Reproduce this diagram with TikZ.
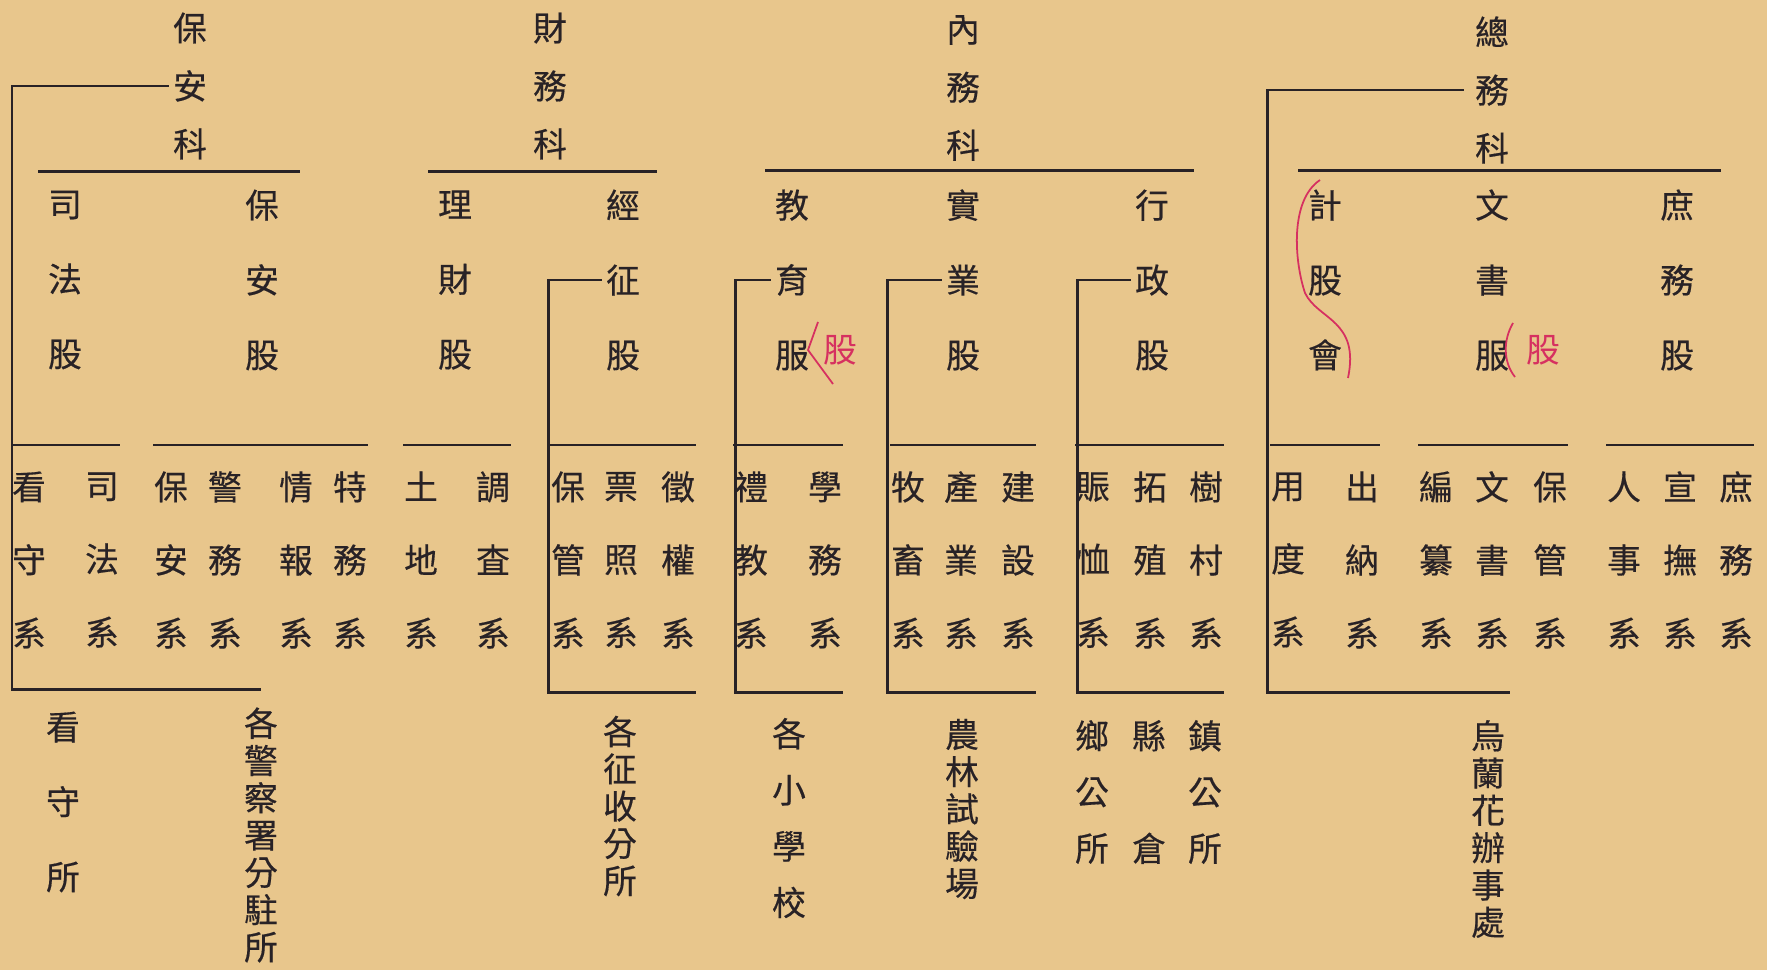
\documentclass[tikz,border=0pt]{standalone}
\usepackage{fontspec}
\newfontfamily\cjk[FakeBold=0.45]{Noto Sans CJK TC}
\newfontfamily\cjkpen{Noto Sans CJK TC}
\definecolor{paper}{RGB}{232,198,140}
\definecolor{ink}{RGB}{40,34,38}
\definecolor{redpen}{RGB}{214,48,96}

\begin{document}
\begin{tikzpicture}[x=0.01cm,y=-0.01cm,
    every node/.style={inner sep=0pt,align=center,text=ink},
    ke/.style={font=\cjk\fontsize{9.6}{16.5}\selectfont},
    gu/.style={font=\cjk\fontsize{9.6}{21.3}\selectfont},
    xi/.style={font=\cjk\fontsize{9.6}{20.8}\selectfont},
    suo/.style={font=\cjk\fontsize{9.6}{10.6}\selectfont},
    suowide/.style={font=\cjk\fontsize{9.6}{16}\selectfont},
    pen/.style={font=\cjkpen\fontsize{9.6}{10}\selectfont,text=redpen},
    treeline/.style={draw=ink,line width=0.85pt},
    redline/.style={draw=redpen,line width=0.5pt}]

\fill[paper] (0,0) rectangle (1767,970);
\useasboundingbox (0,0) rectangle (1767,970);

% departments
\node[ke] (hBao)  at (190,86)  {保\\安\\科};
\node[ke] (hCai)  at (550,86)  {財\\務\\科};
\node[ke] (hNei)  at (963,88)  {內\\務\\科};
\node[ke] (hZong) at (1492,90) {總\\務\\科};

% sections
\node[gu] (gSifa)  at (65,280)   {司\\法\\股};
\node[gu] (gBaoan) at (262,280)  {保\\安\\股};
\node[gu] (gLicai) at (455,280)  {理\\財\\股};
\node[gu] (gJing)  at (623,280)  {經\\征\\股};
\node[gu] (gJiao)  at (792,280)  {教\\育\\服};
\node[gu] (gShi)   at (963,280)  {實\\業\\股};
\node[gu] (gXing)  at (1152,280) {行\\政\\股};
\node[gu] (gKuai)  at (1325,280) {計\\股\\會};
\node[gu] (gWen)   at (1492,280) {文\\書\\服};
\node[gu] (gShu)   at (1677,280) {庶\\務\\股};

% desks
\node[xi] (sKanshou)   at (29,560)   {看\\守\\系};
\node[xi] (sSifa)      at (102,560)  {司\\法\\系};
\node[xi] (sBaoan)     at (171,560)  {保\\安\\系};
\node[xi] (sJingwu)    at (225,560)  {警\\務\\系};
\node[xi] (sQingbao)   at (296,560)  {情\\報\\系};
\node[xi] (sTewu)      at (350,560)  {特\\務\\系};
\node[xi] (sTudi)      at (421,560)  {土\\地\\系};
\node[xi] (sDiaocha)   at (493,560)  {調\\査\\系};
\node[xi] (sBaoguan)   at (568,560)  {保\\管\\系};
\node[xi] (sPiaozhao)  at (621,560)  {票\\照\\系};
\node[xi] (sZhengquan) at (678,560)  {徵\\權\\系};
\node[xi] (sLijiao)    at (751,560)  {禮\\教\\系};
\node[xi] (sXuewu)     at (825,560)  {學\\務\\系};
\node[xi] (sMuxu)      at (908,560)  {牧\\畜\\系};
\node[xi] (sChanye)    at (961,560)  {產\\業\\系};
\node[xi] (sJianshe)   at (1018,560) {建\\設\\系};
\node[xi] (sZhenxu)    at (1093,560) {賑\\恤\\系};
\node[xi] (sTuozhi)    at (1150,560) {拓\\殖\\系};
\node[xi] (sShucun)    at (1206,560) {樹\\村\\系};
\node[xi] (sYongdu)    at (1288,560) {用\\度\\系};
\node[xi] (sChuna)     at (1362,560) {出\\納\\系};
\node[xi] (sBianzuan)  at (1436,560) {編\\纂\\系};
\node[xi] (sWenshu)    at (1492,560) {文\\書\\系};
\node[xi] (sBaoguanB)  at (1550,560) {保\\管\\系};
\node[xi] (sRenshi)    at (1624,560) {人\\事\\系};
\node[xi] (sXuanfu)    at (1680,560) {宣\\撫\\系};
\node[xi] (sShuwu)     at (1736,560) {庶\\務\\系};

% offices
\node[gu]      (oKanshou)   at (63,802)   {看\\守\\所};
\node[suo]     (oJingcha)   at (261,835)  {各\\警\\察\\署\\分\\駐\\所};
\node[suo]     (oZhengshou) at (620,806)  {各\\征\\收\\分\\所};
\node[suowide] (oXiao)      at (789,818)  {各\\小\\學\\校};
\node[suo]     (oNonglin)   at (962,809)  {農\\林\\試\\驗\\場};
\node[suowide] (oXiang)     at (1092,792) {鄉\\公\\所};
\node[suowide] (oXian)      at (1149,792) {縣\\~\\倉};
\node[suowide] (oZhen)      at (1205,792) {鎮\\公\\所};
\node[suo]     (oWulan)     at (1488,829) {烏\\蘭\\花\\辦\\事\\處};

% red corrections
\node[pen] (penJiao) at (840,350)  {股};
\node[pen] (penWen)  at (1543,350) {股};
\draw[redline] (818,322) -- (808,350) -- (833,384);
\draw[redline] (1513,323) .. controls (1503,340) and (1503,362) .. (1515,377);
\draw[redline] (1320,180) .. controls (1290,200) and (1294,260) .. (1305,293) .. controls (1318,320) and (1360,320) .. (1348,378);

% rules under the departments
\draw[treeline] ([shift={(-9,-18)}]gSifa.north west) coordinate (rA) -- (rA -| gBaoan.east) -- ++(20,0);
\draw[treeline] ([shift={(-9,-18)}]gLicai.north west) coordinate (rB) -- (rB -| gJing.east) -- ++(16,0);
\draw[treeline] ([shift={(-9,-18)}]gJiao.north west) coordinate (rC) -- (rC -| gXing.east) -- ++(24,0);
\draw[treeline] ([shift={(-9,-18)}]gKuai.north west) coordinate (rD) -- (rD -| gShu.east) -- ++(26,0);

% rules over the desks
\coordinate (deskRule) at (0,445);
\draw[treeline] (sKanshou.west |- deskRule) -- (sSifa.east |- deskRule);
\draw[treeline] (sBaoan.west |- deskRule)   -- (sTewu.east |- deskRule);
\draw[treeline] (sTudi.west |- deskRule)    -- (sDiaocha.east |- deskRule);
\draw[treeline] (sBaoguan.west |- deskRule) -- (sZhengquan.east |- deskRule);
\draw[treeline] (sLijiao.west |- deskRule)  -- (sXuewu.east |- deskRule);
\draw[treeline] (sMuxu.west |- deskRule)    -- (sJianshe.east |- deskRule);
\draw[treeline] (sZhenxu.west |- deskRule)  -- (sShucun.east |- deskRule);
\draw[treeline] (sYongdu.west |- deskRule)  -- (sChuna.east |- deskRule);
\draw[treeline] (sBianzuan.west |- deskRule) -- (sBaoguanB.east |- deskRule);
\draw[treeline] (sRenshi.west |- deskRule)  -- (sShuwu.east |- deskRule);

% brackets down to the offices
\coordinate (footA) at (12,689);
\coordinate (footB) at (548,692);
\coordinate (footC) at (735,692);
\coordinate (footD) at (887,692);
\coordinate (footE) at (1077,692);
\coordinate (footF) at (1267,692);
\draw[treeline,shorten <=1pt] (hBao.west)  -| (footA) -- (footA -| oJingcha);
\draw[treeline,shorten <=1pt] (gJing.west) -| (footB) -- (footB -| sZhengquan.east);
\draw[treeline,shorten <=1pt] (gJiao.west) -| (footC) -- (footC -| sXuewu.east);
\draw[treeline,shorten <=1pt] (gShi.west)  -| (footD) -- (footD -| sJianshe.east);
\draw[treeline,shorten <=1pt] (gXing.west) -| (footE) -- (footE -| sShucun.east);
\draw[treeline,shorten <=3pt] (hZong.west) -| (footF) -- (footF -| sWenshu.east);

\end{tikzpicture}
\end{document}
